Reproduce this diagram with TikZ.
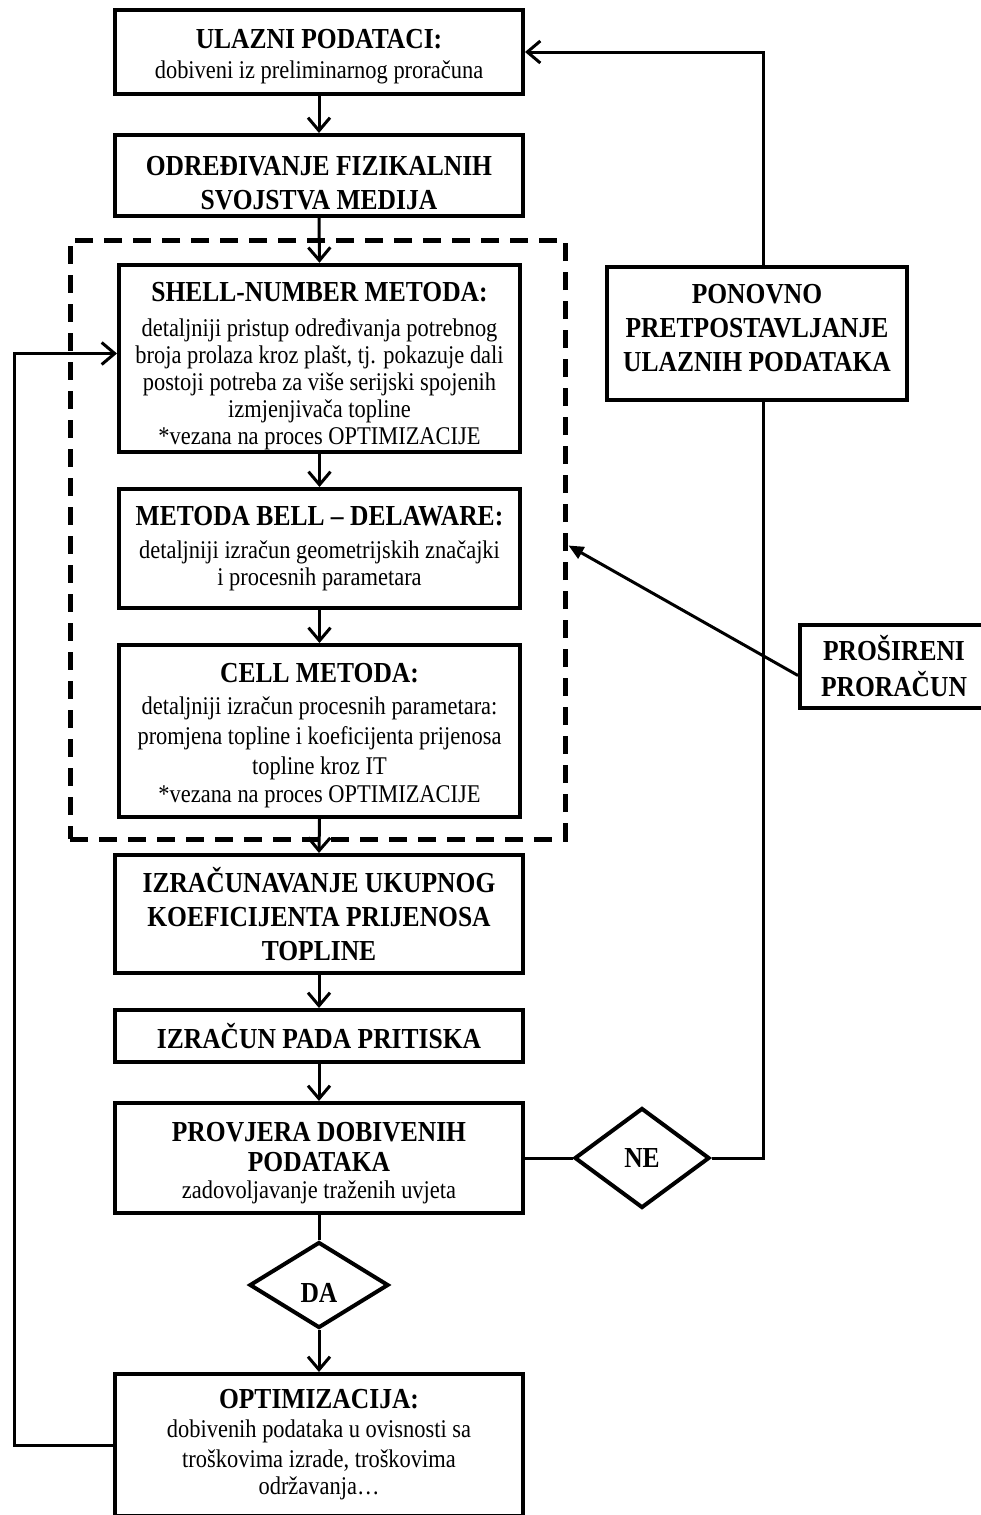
\documentclass[tikz,border=0pt]{standalone}
\usepackage{fontspec}
\setmainfont{Liberation Serif}[FakeStretch=0.88]
\usetikzlibrary{arrows.meta,shapes.geometric,calc}
\newcommand\bodyf{\fontsize{25.5}{27}\selectfont}
\newcommand\titlef{\fontsize{29}{34}\selectfont\bfseries}
\begin{document}
\begin{tikzpicture}[x=1pt,y=-1pt,
  box/.style={draw,line width=4pt,rectangle,align=center,inner sep=2pt,font=\bodyf},
  tbox/.style={box,font=\titlef},
  dia/.style={draw,line width=4pt,diamond,inner sep=0pt,font=\titlef},
  conn/.style={line width=3pt},
  arr/.style={conn,-{Straight Barb[length=13pt,width=22pt]}},
  grpbox/.style={draw,line width=5pt,dash pattern=on 18pt off 11pt,inner sep=0pt}]
\useasboundingbox (0,0) rectangle (981,1515);

% group frame
\node[grpbox,minimum width=495pt,minimum height=599pt] (grp) at (317.5,539.5) {};

% main column
\node[box,minimum width=408pt,minimum height=84pt] (ulazni) at (319,52)
  {\rule{0pt}{29pt}{\titlef ULAZNI PODATACI:}\\[3pt]dobiveni iz preliminarnog proračuna};
\node[tbox,minimum width=408pt,minimum height=81pt] (odredj) at (319,175.5)
  {\rule{0pt}{35pt}ODREĐIVANJE FIZIKALNIH\\SVOJSTVA MEDIJA};
\node[box,minimum width=401pt,minimum height=187pt] (shell) at (319.5,358.5)
  {\rule{0pt}{35pt}{\titlef SHELL-NUMBER METODA:}\\[8pt]detaljniji pristup određivanja potrebnog\\broja prolaza kroz plašt, tj. pokazuje dali\\postoji potreba za više serijski spojenih\\izmjenjivača topline\\*vezana na proces OPTIMIZACIJE};
\node[box,minimum width=401pt,minimum height=119pt] (bell) at (319.5,548.5)
  {{\titlef METODA BELL – DELAWARE:}\\[6pt]detaljniji izračun geometrijskih značajki\\i procesnih parametara};
\node[box,minimum width=401pt,minimum height=172pt] (cell) at (319.5,731)
  {\rule{0pt}{28pt}{\titlef CELL METODA:}\\[5pt]detaljniji izračun procesnih parametara:\\[3pt]promjena topline i koeficijenta prijenosa\\[3pt]topline kroz IT\\[1pt]*vezana na proces OPTIMIZACIJE};
\node[tbox,minimum width=408pt,minimum height=118pt] (izr) at (319,914)
  {IZRAČUNAVANJE UKUPNOG\\KOEFICIJENTA PRIJENOSA\\TOPLINE};
\node[tbox,minimum width=408pt,minimum height=52pt] (pada) at (319,1036)
  {IZRAČUN PADA PRITISKA};
\node[box,minimum width=408pt,minimum height=110pt] (prov) at (319,1158)
  {\rule{0pt}{29pt}{\titlef PROVJERA DOBIVENIH}\\[3pt]{\titlef PODATAKA}\\zadovoljavanje traženih uvjeta};
\node[dia,minimum width=139pt,minimum height=86pt] (da) at (319,1285) {\raisebox{-17pt}[0pt][0pt]{DA}};
\node[box,minimum width=408pt,minimum height=142pt] (opt) at (319,1445)
  {{\titlef OPTIMIZACIJA:}\\[2pt]dobivenih podataka u ovisnosti sa\\[3pt]troškovima izrade, troškovima\\održavanja…};

% right side
\node[dia,minimum width=135pt,minimum height=100pt] (ne) at (642,1158) {NE};
\node[tbox,minimum width=300pt,minimum height=133pt] (pon) at (757,333.5)
  {PONOVNO\\PRETPOSTAVLJANJE\\ULAZNIH PODATAKA\rule[-12pt]{0pt}{12pt}};
\node[tbox,minimum width=188pt,minimum height=83pt] (pros) at (894,666.5)
  {PROŠIRENI\\[2pt]PRORAČUN};

\coordinate (vx) at (763,0);
\coordinate (fbx) at (14,0);
\coordinate (shin) at ($(shell.west)+(0,-5)$);

% connectors
\draw[arr] (ulazni.south) -- (odredj.north);
\draw[arr] (odredj.south) -- (shell.north);
\draw[arr] (shell.south) -- (bell.north);
\draw[arr] (bell.south) -- (cell.north);
\draw[arr] (cell.south) -- (izr.north);
\draw[arr] (izr.south) -- (pada.north);
\draw[arr] (pada.south) -- (prov.north);
\draw[conn] (prov.south) -- (da.north);
\draw[arr] (da.south) -- (opt.north);
\draw[conn] (prov.east) -- (ne.west);
\draw[conn] (ne.east) -| (vx |- pon.south);
\draw[arr] (vx |- pon.north) |- (ulazni.east);
\draw[arr] (opt.west) -| (fbx |- shin) -- (shin);
\draw[conn,-{Triangle[length=15pt,width=13pt]}] ($(pros.west)+(0,9)$) -- ($(grp.east)+(1,6)$);
\end{tikzpicture}
\end{document}
